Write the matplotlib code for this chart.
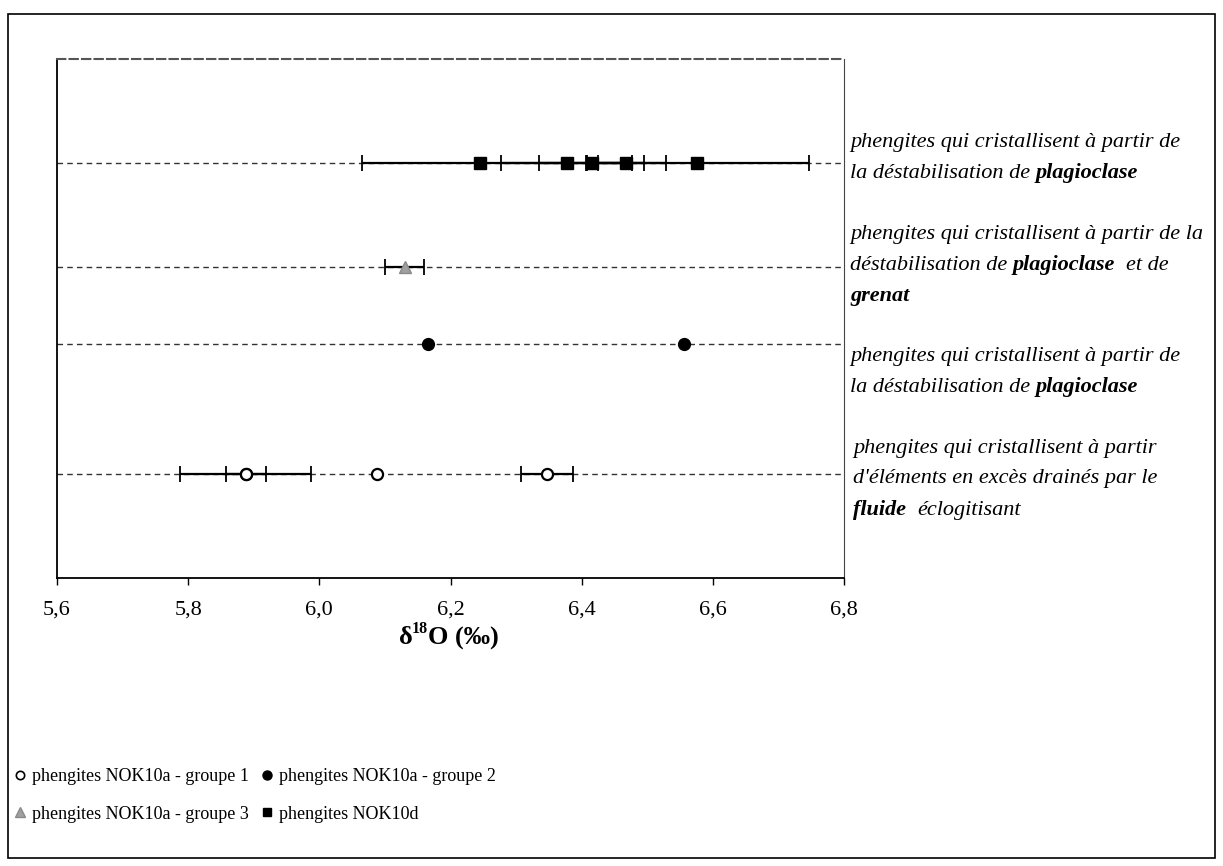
import matplotlib
matplotlib.use("Agg")
import matplotlib.pyplot as plt
from matplotlib.lines import Line2D
from matplotlib.patches import Rectangle

plt.rcParams["font.family"] = ["Liberation Serif", "DejaVu Serif"]

W, H = 1223, 866

# rows on the (hidden) y axis
y_d, y_g3, y_g2, y_g1 = 4.0, 3.0, 2.25, 1.0

# delta18O values (permil) and half-widths of the error bars
g1_x = [5.888, 5.888, 6.088, 6.347]
g1_err = [0.10, 0.03, 0.0, 0.04]
g2_x = [6.166, 6.556]
g3_x = [6.13]
g3_err = [0.03]
d_x = [6.245, 6.377, 6.415, 6.468, 6.576]
d_err = [0.18, 0.10, 0.08, 0.06, 0.17]

xticks = [5.6, 5.8, 6.0, 6.2, 6.4, 6.6, 6.8]
xtick_labels = ["5,6", "5,8", "6,0", "6,2", "6,4", "6,6", "6,8"]

legend_labels = ["phengites NOK10a - groupe 1", "phengites NOK10a - groupe 2",
                 "phengites NOK10a - groupe 3", "phengites NOK10d"]

notes = [
    [142, 850, [[("phengites qui cristallisent à partir de", False)],
                [("la déstabilisation de", False), ("plagioclase", True)]]],
    [234, 850, [[("phengites qui cristallisent à partir de la", False)],
                [("déstabilisation de", False), ("plagioclase", True), (" et de", False)],
                [("grenat", True)]]],
    [356, 850, [[("phengites qui cristallisent à partir de", False)],
                [("la déstabilisation de", False), ("plagioclase", True)]]],
    [448, 853, [[("phengites qui cristallisent à partir", False)],
                [("d'éléments en excès drainés par le", False)],
                [("fluide", True), (" éclogitisant", False)]]],
]

fig = plt.figure(figsize=(W / 100, H / 100), dpi=100)
fig.patches.append(Rectangle((8 / W, 1 - 858 / H), 1207 / W, 844 / H,
                             transform=fig.transFigure, fill=False,
                             edgecolor="black", linewidth=1.2))

ax = fig.add_axes([57 / W, 1 - 578 / H, 787 / W, 519 / H])
ax.set_xlim(5.6, 6.8)
ax.set_ylim(0, 5)

for y in [y_d, y_g3, y_g2, y_g1]:
    ax.axhline(y, color="#333333", linewidth=1, dashes=(4, 3), zorder=1)

eb = dict(fmt="none", ecolor="black", elinewidth=1.6, capsize=6, capthick=1.3, zorder=2)
g1_bars = [(x, e) for x, e in zip(g1_x, g1_err) if e > 0]
ax.errorbar([b[0] for b in g1_bars], [y_g1] * len(g1_bars), xerr=[b[1] for b in g1_bars], **eb)
ax.errorbar(g3_x, [y_g3] * len(g3_x), xerr=g3_err, **eb)
ax.errorbar(d_x, [y_d] * len(d_x), xerr=d_err, **eb)

ax.plot(g1_x, [y_g1] * len(g1_x), "o", ms=8, mfc="white", mec="black", mew=1.6, zorder=3)
ax.plot(g2_x, [y_g2] * len(g2_x), "o", ms=8.5, mfc="black", mec="black", zorder=3)
ax.plot(g3_x, [y_g3] * len(g3_x), "^", ms=9, mfc="#a0a0a0", mec="#8a8a8a", mew=1, zorder=3)
ax.plot(d_x, [y_d] * len(d_x), "s", ms=8, mfc="black", mec="black", zorder=3)

ax.set_xticks(xticks)
ax.set_xticklabels(xtick_labels, fontsize=16)
ax.tick_params(axis="x", direction="out", length=5, width=1, pad=11)
ax.set_yticks([])
ax.spines["left"].set_linewidth(1.3)
ax.spines["bottom"].set_linewidth(1.3)
ax.spines["right"].set_color("#444444")
ax.spines["top"].set_color("#555555")
ax.spines["top"].set_linestyle((0, (4, 2)))
ax.spines["top"].set_linewidth(1.5)

r = fig.canvas.get_renderer()


def width_px(s, **kw):
    t = fig.text(0, 0, s, **kw)
    w = t.get_window_extent(r).width
    t.remove()
    return w


# annotations on the right, italic with bold words
size = 16
space = width_px("x x", fontsize=size, style="italic") - width_px("xx", fontsize=size, style="italic")
for y0, x0, lines in notes:
    for i, parts in enumerate(lines):
        x = x0
        y = y0 + i * 31
        for j, (s, bold) in enumerate(parts):
            lead = len(s) - len(s.lstrip())
            s = s.strip()
            if j > 0:
                x += space * (1 + lead)
            t = fig.text(x / W, 1 - y / H, s, fontsize=size, style="italic",
                         weight="bold" if bold else "normal", va="center", ha="left")
            x += t.get_window_extent(r).width

# x axis title: delta 18 O (permil)
x = 399
t = fig.text(x / W, 1 - 638 / H, "δ", fontsize=19, weight="bold", va="center")
x += t.get_window_extent(r).width - 1
t = fig.text(x / W, 1 - 629 / H, "18", fontsize=11.5, weight="bold", va="center")
x += t.get_window_extent(r).width
fig.text(x / W, 1 - 638 / H, "O (‰)", fontsize=19, weight="bold", va="center")

handles = [
    Line2D([], [], ls="none", marker="o", ms=6, mfc="white", mec="black", mew=1.2),
    Line2D([], [], ls="none", marker="o", ms=6.5, mfc="black", mec="black"),
    Line2D([], [], ls="none", marker="^", ms=7, mfc="#a0a0a0", mec="#8a8a8a"),
    Line2D([], [], ls="none", marker="s", ms=6, mfc="black", mec="black"),
]
fig.legend([handles[0], handles[2], handles[1], handles[3]],
           [legend_labels[0], legend_labels[2], legend_labels[1], legend_labels[3]],
           ncol=2, frameon=False, fontsize=13, loc="upper left",
           bbox_to_anchor=(15 / W, 1 - 768 / H), handlelength=0.6,
           handletextpad=0.35, columnspacing=0.7, labelspacing=1.15,
           borderpad=0, borderaxespad=0)

fig.savefig("out.png", dpi=100)
